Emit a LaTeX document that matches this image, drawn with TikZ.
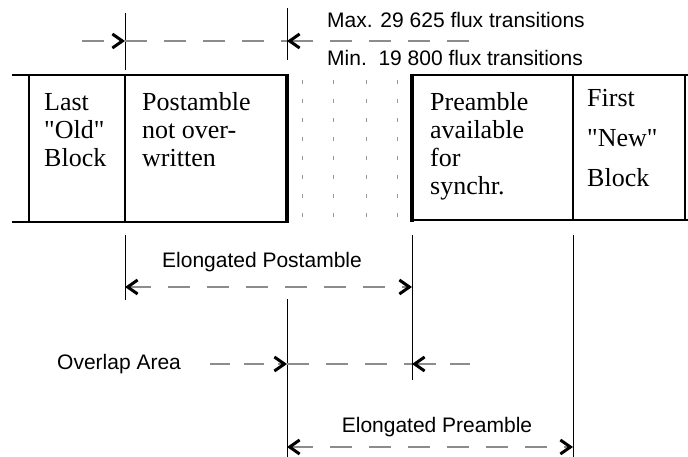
\documentclass[tikz,border=0pt]{standalone}
\usepackage{fontspec}
\setmainfont{Liberation Serif}
\setsansfont{Liberation Sans}
\usetikzlibrary{arrows.meta}
\newcommand{\sq}{\textquotedbl}
\tikzset{
  blk/.style={line width=2pt, black},
  heavy/.style={line width=4pt, black},
  ext/.style={line width=0.9pt, black},
  dim/.style={line width=1.1pt, gray!90, dash pattern=on 22pt off 17pt},
  dots/.style={line width=1pt, gray!80, dash pattern=on 4pt off 15pt},
  tip/.tip={Straight Barb[length=10pt,width=14pt,line width=3pt,color=black]},
  serif/.style={inner sep=0pt, align=left, font=\fontsize{26}{28}\selectfont},
  sans/.style={inner sep=0pt, font=\sffamily\fontsize{21}{24}\selectfont},
}
\begin{document}
\begin{tikzpicture}[x=1pt,y=-1pt]
\useasboundingbox (0,0) rectangle (688,457);
% block outlines
\draw[blk] (12,75) -- (287,75);
\draw[blk] (12,222) -- (287,222);
\draw[blk] (412,75) -- (688,75);
\draw[blk] (412,220) -- (688,220);
\draw[blk] (29,75) -- (29,222);
\draw[blk] (125,75) -- (125,222);
\draw[blk] (573,75) -- (573,220);
\draw[blk] (685,75) -- (685,220);
\draw[heavy] (287,74) -- (287,223);
\draw[heavy] (412,74) -- (412,222);
% dotted lines
\foreach \x in {302,333,366,397} \draw[dots] (\x,80) -- (\x,222);
% block texts
\node[serif, anchor=north west] (old) at (44,93) {Last\\\sq Old\sq\\Block};
\node[serif, anchor=north west] (post) at (142,92) {Postamble\\not over-\\written};
\node[serif, anchor=north west] (pre) at (430,92) {Preamble\\available\\for\\synchr.};
\node[serif, anchor=north west, font=\fontsize{26}{40}\selectfont] (new) at (587,89) {First\\\sq New\sq\\Block};
% top extension lines
\coordinate (t1a) at (125,13); \coordinate (t1b) at (125,70);
\coordinate (t2a) at (287,8);  \coordinate (t2b) at (287,60);
\draw[ext] (t1a) -- (t1b);
\draw[ext] (t2a) -- (t2b);
\coordinate (tl) at (82,41); \coordinate (tm1) at (125,41);
\coordinate (tm2) at (287,41); \coordinate (tr) at (470,41);
\draw[dim, -tip] (tl) -- (tm1);
\draw[dim] (tm1) -- (tm2);
\draw[dim, tip-] (tm2) -- (tr);
\node[sans, anchor=west] (max) at (327,20) {Max. 29 625 flux transitions};
\node[sans, anchor=west] (min) at (327,58) {Min.\ \ 19 800 flux transitions};
% bottom extension lines
\coordinate (b1a) at (125,235); \coordinate (b1b) at (125,300);
\coordinate (b2a) at (412,235); \coordinate (b2b) at (412,380);
\coordinate (b3a) at (287,299); \coordinate (b3b) at (287,457);
\coordinate (b4a) at (573,235); \coordinate (b4b) at (573,457);
\draw[ext] (b1a) -- (b1b);
\draw[ext] (b2a) -- (b2b);
\draw[ext] (b3a) -- (b3b);
\draw[ext] (b4a) -- (b4b);
% elongated postamble
\node[sans] (ep) at (262,262) {Elongated Postamble};
\coordinate (ep1) at (125,287); \coordinate (ep2) at (412,287);
\draw[dim, tip-tip] (ep1) -- (ep2);
% overlap area
\node[sans, anchor=west] (ov) at (57,364) {Overlap Area};
\coordinate (o1) at (210,364); \coordinate (o2) at (287,364);
\coordinate (o3) at (412,364); \coordinate (o4) at (477,364);
\draw[dim, dash pattern=on 20pt off 14pt, -tip] (o1) -- (o2);
\draw[dim] (o2) -- (o3);
\draw[dim, dash pattern=on 20pt off 14pt, tip-] (o3) -- (o4);
% elongated preamble
\node[sans] (epr) at (437,427) {Elongated Preamble};
\coordinate (pr1) at (287,447); \coordinate (pr2) at (573,447);
\draw[dim, tip-tip] (pr1) -- (pr2);
\end{tikzpicture}
\end{document}
